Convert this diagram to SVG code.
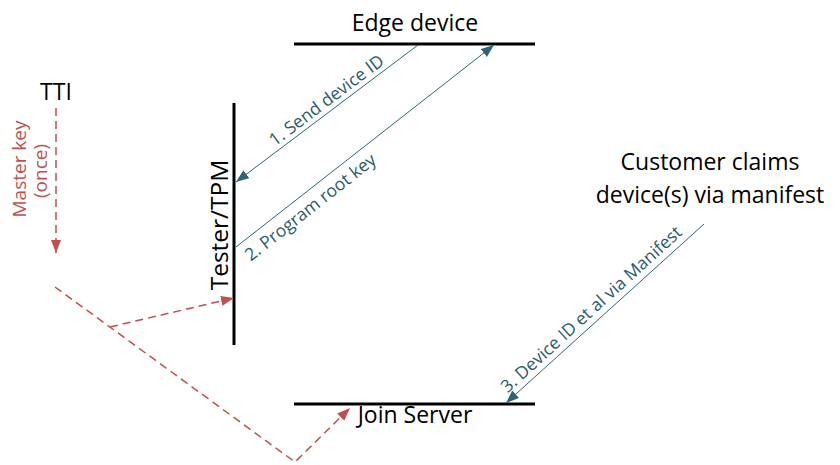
<svg xmlns="http://www.w3.org/2000/svg" width="840" height="465" viewBox="0 0 840 465">
<style>
.big{font-family:"Open Sans","Liberation Sans",sans-serif;font-size:23px;fill:#000}
.lbl{font-family:"Open Sans","Liberation Sans",sans-serif;font-size:17.5px;fill:#2A5B6A}
.red{font-family:"Open Sans","Liberation Sans",sans-serif;font-size:19px;fill:#C0504D}
.bar{stroke:#000;stroke-width:3;fill:none}
.msg{stroke:#2F6475;stroke-width:1;fill:none}
.dash{stroke:#C0504D;stroke-width:1.5;fill:none;stroke-dasharray:8 5}
</style>
<defs>
<marker id="ta" markerUnits="userSpaceOnUse" markerWidth="14" markerHeight="12" refX="13" refY="5" orient="auto">
<path d="M0,0 L13,5 L0,10 z" fill="#2F6475"/>
</marker>
<marker id="ra" markerUnits="userSpaceOnUse" markerWidth="14" markerHeight="12" refX="13" refY="5" orient="auto">
<path d="M0,0 L13,5 L0,10 z" fill="#C0504D"/>
</marker>
</defs>
<g id="edge-device">
<line class="bar" x1="294" y1="44" x2="535" y2="44"/>
<text class="big" x="415" y="31" text-anchor="middle">Edge device</text>
</g>
<g id="tester-tpm">
<line class="bar" x1="234" y1="103" x2="234" y2="345"/>
<text class="big" transform="translate(228,225) rotate(-90)" x="0" y="0" text-anchor="middle" style="font-size:24.5px">Tester/TPM</text>
</g>
<g id="join-server">
<line class="bar" x1="294" y1="404" x2="535" y2="404"/>
<text class="big" x="415" y="423" text-anchor="middle">Join Server</text>
</g>
<g id="tti">
<text class="big" x="56" y="100" text-anchor="middle">TTI</text>
</g>
<g id="customer">
<text class="big" x="710" y="170" text-anchor="middle">Customer claims</text>
<text class="big" x="710" y="203" text-anchor="middle">device(s) via manifest</text>
</g>
<g id="connectors">
<line class="msg" x1="418" y1="45" x2="236" y2="182" marker-end="url(#ta)"/>
<text class="lbl" transform="translate(327,101) rotate(-37)" x="0" y="5" text-anchor="middle">1. Send device ID</text>
<line class="msg" x1="236" y1="247" x2="494" y2="45" marker-end="url(#ta)"/>
<text class="lbl" transform="translate(311,208) rotate(-38.2)" x="0" y="5" text-anchor="middle">2. Program root key</text>
<line class="msg" x1="704" y1="224" x2="506" y2="403" marker-end="url(#ta)"/>
<text class="lbl" transform="translate(592,310) rotate(-42.3)" x="0" y="5" text-anchor="middle">3. Device ID et al via Manifest</text>
<line class="dash" x1="56" y1="108" x2="56" y2="253" marker-end="url(#ra)"/>
<text class="red" transform="translate(26,169) rotate(-90)" x="0" y="0" text-anchor="middle">Master key</text>
<text class="red" transform="translate(47,171) rotate(-90)" x="0" y="0" text-anchor="middle">(once)</text>
<path class="dash" d="M55,287 L295,462 L350,408" marker-end="url(#ra)"/>
<line class="dash" x1="110" y1="327" x2="234" y2="298" marker-end="url(#ra)"/>
</g>
</svg>
